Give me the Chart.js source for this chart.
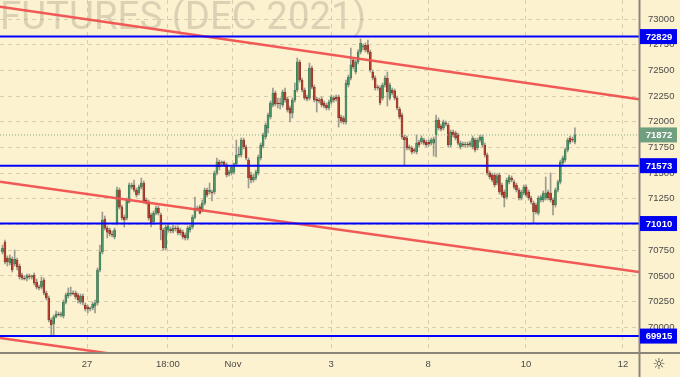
<!DOCTYPE html>
<html><head><meta charset="utf-8">
<script src="https://cdn.jsdelivr.net/npm/chart.js@4/dist/chart.umd.min.js"></script>
<style>html,body{margin:0;padding:0;background:#fdf2cf;}#wrap{width:680px;height:377px;}</style>
</head><body><div id="wrap"><canvas id="c" width="680" height="377"></canvas></div>
<script>
const opens=[70733,70830,70675,70626,70665,70616,70655,70597,70509,70480,70480,70500,70490,70509,70441,70392,70392,70461,70334,70285,70071,70033,70101,70130,70120,70110,70246,70305,70324,70334,70334,70315,70246,70305,70217,70198,70178,70188,70207,70237,70558,70733,71054,70966,70947,70908,70879,71015,
71336,71170,71073,71064,71219,71365,71385,71336,71307,71365,71404,71239,71219,71093,71025,71112,71161,71093,70947,70772,70947,70957,70937,70966,70966,70947,70927,70898,70869,70947,70976,71073,71151,71170,71142,71209,71336,71317,71317,71317,71502,71609,71599,71609,71580,71492,71502,71511,71590,71677,71677,71823,71755,71628,71482,71434,71453,71502,71648,71764,71852,71940,72047,72163,72280,72183,72173,72163,72290,72222,72134,72085,72212,72309,72582,72407,72309,72241,72231,72523,72338,72222,72212,72222,72183,72163,72134,72192,72231,72241,72241,72047,72037,71998,72358,72426,72601,72484,72582,72679,72728,72747,72747,72679,72484,72426,72338,72329,72231,72358,72426,72231,72309,72300,72231,72124,72066,71852,71842,71755,71745,71726,71706,71803,71803,71823,71803,71803,71793,71793,71871,72017,71959,71940,71988,71969,71774,71901,71891,71871,71755,71784,71774,71784,71774,71755,71823,71745,71823,71774,71774,71677,71502,71482,71482,71404,71482,71385,71317,71268,71414,71453,71414,71385,71336,71258,71307,71365,71317,71258,71210,71190,71112,71239,71239,71258,71317,71307,71239,71190,71336,71414,71599,71628,71726,71842,71832,71803];
const highs=[70801,70850,70695,70704,70685,70752,70675,70616,70529,70500,70519,70519,70509,70529,70470,70412,70490,70480,70354,70305,70091,70120,70159,70149,70149,70266,70334,70383,70392,70354,70354,70334,70324,70324,70237,70217,70198,70246,70266,70577,70801,71122,71083,70986,70966,70937,70966,71365,
71356,71190,71093,71258,71404,71404,71434,71356,71385,71453,71424,71258,71239,71112,71132,71180,71180,71112,70966,70996,71005,70976,70996,70986,70986,70966,70947,70918,70986,70996,71093,71268,71180,71190,71239,71356,71356,71404,71336,71521,71648,71628,71619,71619,71600,71531,71570,71599,71823,71755,71842,71842,71774,71648,71511,71492,71531,71677,71793,71891,71988,72085,72202,72329,72300,72231,72231,72309,72329,72241,72154,72231,72377,72621,72601,72426,72329,72261,72572,72543,72358,72241,72231,72241,72202,72183,72212,72261,72251,72261,72261,72066,72056,72407,72455,72718,72621,72601,72699,72806,72757,72767,72796,72699,72504,72446,72358,72348,72377,72446,72484,72377,72329,72319,72251,72144,72085,71871,71862,71774,71764,71745,71871,71823,71862,71842,71823,71823,71842,71852,72066,72037,71978,72017,72008,71988,71920,71920,71910,71891,71813,71803,71803,71803,71813,71862,71842,71842,71871,71871,71793,71696,71521,71502,71502,71492,71502,71404,71336,71453,71482,71473,71434,71404,71356,71336,71385,71385,71336,71278,71229,71210,71278,71288,71327,71463,71336,71502,71258,71356,71434,71628,71667,71745,71842,71862,71852,71940];
const lows=[70714,70616,70597,70607,70538,70597,70558,70470,70461,70461,70451,70470,70470,70412,70373,70363,70373,70315,70266,70052,69925,69925,70091,70110,70101,70091,70227,70285,70305,70315,70276,70237,70227,70217,70159,70140,70159,70169,70140,70217,70538,70714,70947,70869,70889,70879,70860,70996,
71151,71044,70976,71044,71209,71346,71317,71268,71288,71346,71209,71200,71044,70976,71005,71093,71093,70850,70752,70752,70927,70918,70918,70937,70898,70898,70860,70850,70850,70927,70957,71054,71132,71103,71122,71190,71268,71297,71229,71297,71482,71531,71580,71570,71463,71473,71482,71492,71570,71657,71657,71735,71628,71356,71404,71414,71434,71482,71628,71745,71832,71891,72027,72144,72154,72134,72124,72144,72192,72095,71998,72037,72192,72290,72387,72290,72212,72202,72212,72319,72192,72095,72183,72144,72134,72115,72115,72173,72192,72202,71949,71988,71978,71978,72338,72407,72514,72465,72562,72660,72699,72679,72660,72484,72407,72309,72309,72163,72212,72338,72154,72212,72261,72212,72115,72027,71832,71579,71726,71726,71687,71696,71687,71755,71784,71774,71755,71764,71774,71667,71657,71920,71910,71920,71959,71755,71755,71852,71823,71774,71735,71755,71755,71755,71755,71735,71706,71726,71803,71755,71657,71482,71443,71414,71365,71385,71297,71268,71171,71249,71395,71414,71346,71317,71239,71239,71288,71268,71239,71200,71015,71103,71093,71220,71220,71239,71239,71220,71093,71171,71317,71395,71579,71609,71706,71784,71803,71784];
const closes=[70772,70636,70636,70675,70558,70665,70587,70490,70480,70470,70500,70490,70500,70431,70392,70383,70451,70334,70285,70071,70023,70101,70130,70120,70130,70246,70315,70334,70334,70324,70295,70266,70305,70246,70178,70178,70188,70227,70237,70558,70733,71044,70966,70927,70908,70898,70947,71336,
71170,71064,71044,71239,71385,71385,71336,71288,71365,71404,71219,71209,71064,71015,71112,71161,71112,70947,70772,70976,70986,70937,70966,70957,70918,70918,70879,70869,70966,70976,71073,71161,71161,71112,71209,71336,71288,71336,71307,71502,71609,71560,71609,71580,71482,71511,71560,71590,71677,71687,71823,71755,71648,71453,71434,71463,71511,71657,71774,71871,71969,72066,72183,72280,72173,72173,72183,72290,72212,72115,72085,72212,72309,72582,72407,72309,72231,72222,72523,72338,72212,72202,72202,72163,72154,72134,72192,72241,72212,72222,72037,72008,71998,72377,72436,72553,72533,72582,72679,72767,72737,72699,72679,72504,72426,72329,72329,72183,72358,72426,72290,72358,72280,72231,72134,72047,71852,71823,71745,71745,71706,71716,71793,71774,71842,71793,71774,71784,71823,71832,72017,71940,71930,71998,71978,71774,71901,71871,71842,71793,71793,71774,71784,71774,71793,71842,71726,71823,71852,71852,71677,71502,71463,71434,71385,71473,71317,71288,71258,71434,71463,71434,71365,71336,71258,71317,71365,71288,71258,71220,71122,71122,71258,71268,71307,71307,71258,71239,71190,71336,71414,71609,71648,71726,71823,71803,71823,71872];
const levels=[72829,71573,71010,69915];
const lastPrice=71872;
const trendStart=[73120,71417,69896];
const trendEnd=[72220,70538,69017];
const yTickValues=[70000,70250,70500,70750,71000,71250,71500,71750,72000,72250,72500,72750,73000];
const xTickLabels=['27','18:00','Nov','3','8','10','12'];
const xTickIdx=[34.7,67.9,94.6,134.9,174.7,214.9,254.7];
const title='FUTURES (DEC 2021)';

const X_MIN=-1.03, X_MAX=261.3, Y_MIN=69760, Y_MAX=73185;
const idx=opens.map((_,i)=>i);
const up=idx.map(i=>closes[i]>=opens[i]);
const hline=v=>[{x:X_MIN,y:v},{x:X_MAX,y:v}];
const FONT='"Liberation Sans", Arial, sans-serif';

const datasets=[];
levels.forEach(v=>datasets.push({type:'line',data:hline(v),borderColor:'#0000ff',borderWidth:2,pointRadius:0,order:1}));
trendStart.forEach((v,k)=>datasets.push({type:'line',data:[{x:X_MIN,y:v},{x:X_MAX,y:trendEnd[k]}],borderColor:'rgba(240,80,80,0.95)',borderWidth:2.5,pointRadius:0,order:2}));
datasets.push({type:'line',data:hline(lastPrice),borderColor:'#7fae8a',borderWidth:1,borderDash:[1,2],pointRadius:0,order:3});
datasets.push({type:'bar',data:idx.map(i=>({x:i,y:[lows[i],highs[i]]})),backgroundColor:'#9a9a8e',barThickness:1,grouped:false,order:5});
datasets.push({type:'bar',data:idx.map(i=>({x:i,y:[opens[i],closes[i]]})),
  backgroundColor:up.map(u=>u?'#4a9468':'#b0402f'),borderColor:up.map(u=>u?'#2d6845':'#7c2a1f'),
  borderWidth:0.5,borderSkipped:false,barThickness:2,minBarLength:1,grouped:false,order:4});

const bgPlugin={id:'bg',beforeDraw(ch){const c=ch.ctx;c.save();c.fillStyle='#fdf2cf';c.fillRect(0,0,ch.width,ch.height);
  c.font='38.4px Roboto, '+FONT;c.fillStyle='#dbd2b6';c.textBaseline='alphabetic';c.textAlign='left';c.fillText(title,0,28.5);c.restore();}};
const overPlugin={id:'over',afterDraw(ch){const c=ch.ctx,a=ch.chartArea,ys=ch.scales.y;c.save();
  c.strokeStyle='#8b867a';c.lineWidth=2;c.beginPath();c.moveTo(a.right+0.5,0);c.lineTo(a.right+0.5,ch.height);c.moveTo(0,a.bottom+1);c.lineTo(ch.width,a.bottom+1);c.stroke();
  c.fillStyle='#4a4a4a';c.font='9.5px '+FONT;c.textAlign='left';c.textBaseline='middle';
  yTickValues.forEach(v=>c.fillText(String(v),a.right+9,ys.getPixelForValue(v)));
  const box=(v,col)=>{const y=ys.getPixelForValue(v);c.fillStyle=col;c.fillRect(a.right+1,y-7.5,37,15);
    c.fillStyle='#ffffff';c.font='bold 9.5px '+FONT;c.textAlign='center';c.textBaseline='middle';c.fillText(String(v),a.right+20,y+0.5);};
  levels.forEach(v=>box(v,'#0000f0'));box(lastPrice,'#6f9f7e');
  c.fillStyle='#333';c.font='15px "DejaVu Sans"';c.textAlign='center';c.textBaseline='middle';c.fillText('\u263C',659,365);
  c.restore();}};

new Chart(document.getElementById('c'),{type:'bar',data:{datasets},
 options:{responsive:false,animation:false,devicePixelRatio:1,layout:{padding:0},
  plugins:{legend:{display:false},tooltip:{enabled:false}},
  scales:{
   x:{type:'linear',min:X_MIN,max:X_MAX,offset:false,
     afterBuildTicks:s=>{s.ticks=xTickIdx.map(v=>({value:v}));},
     afterFit:s=>{s.height=25;},
     ticks:{callback:(v,i)=>xTickLabels[i],maxRotation:0,autoSkip:false,padding:7,color:'#4a4a4a',font:{family:FONT,size:9.5}},
     grid:{offset:false,color:'rgba(170,160,140,0.45)',drawTicks:false,lineWidth:1},border:{display:false,dash:[4,4]}},
   y:{position:'right',min:Y_MIN,max:Y_MAX,
     afterBuildTicks:s=>{s.ticks=yTickValues.map(v=>({value:v}));},
     afterFit:s=>{s.width=41;},
     ticks:{display:false,padding:0},
     grid:{color:'rgba(170,160,140,0.45)',drawTicks:false,lineWidth:1},border:{display:false,dash:[4,4]}}
  }},
 plugins:[bgPlugin,overPlugin]});
</script></body></html>
